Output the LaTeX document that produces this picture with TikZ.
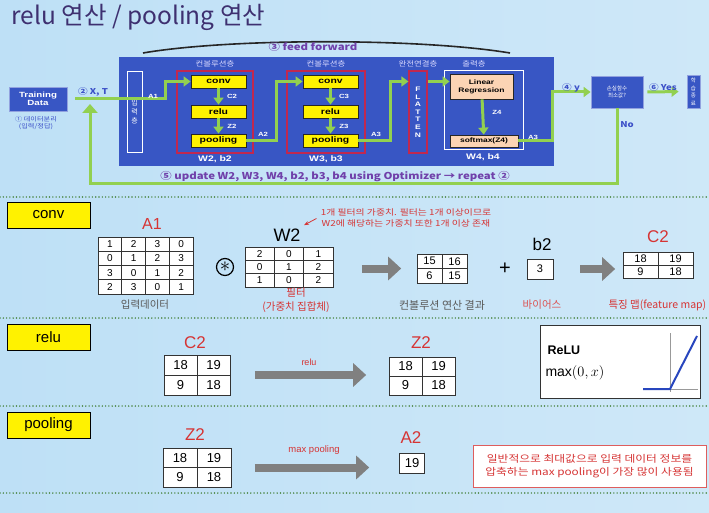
\documentclass[tikz,border=0pt]{standalone}
\usepackage{fontspec}
\setmainfont{Liberation Sans}
\newfontfamily\kr{Noto Sans CJK KR}
\newfontfamily\wkr[FakeStretch=1.2]{Noto Sans CJK KR}
\newfontfamily\wsf[FakeStretch=1.3]{Liberation Sans}
\usetikzlibrary{arrows.meta,positioning,matrix}

\definecolor{panelblue}{RGB}{56,86,196}
\definecolor{flowgreen}{RGB}{146,208,80}
\definecolor{layred}{RGB}{192,40,80}
\definecolor{boxyellow}{RGB}{255,242,0}
\definecolor{lrorange}{RGB}{251,212,180}
\definecolor{labred}{RGB}{214,52,52}
\definecolor{titleblue}{RGB}{62,48,112}
\definecolor{stepblue}{RGB}{60,80,200}
\definecolor{stepviolet}{RGB}{112,64,170}
\definecolor{sepgreen}{RGB}{70,130,60}
\definecolor{bgblue}{RGB}{190,224,246}
\definecolor{arrowgray}{RGB}{128,128,128}
\definecolor{relublue}{RGB}{40,70,190}
\definecolor{capgray}{RGB}{90,90,90}

\tikzset{
  panelbox/.style={fill=panelblue, draw=panelblue!55!white, line width=0.8pt, text=white, inner sep=0pt, align=center},
  ybox/.style={draw=black!85, fill=boxyellow, line width=0.8pt, minimum width=55pt, minimum height=13pt, inner sep=0pt, font=\wsf\bfseries\fontsize{8}{9}\selectfont},
  obox/.style={draw=black!85, fill=lrorange, line width=0.8pt, inner sep=0pt, align=center, font=\wsf\bfseries\fontsize{6.5}{8}\selectfont},
  laybox/.style={draw=layred, line width=1.2pt, inner sep=0pt},
  flow/.style={draw=flowgreen, line width=3pt, -{Triangle[length=7pt,width=10pt]}},
  panellab/.style={text=white, font=\wsf\bfseries\fontsize{6}{7}\selectfont},
  layercap/.style={text=white!85!blue, font=\wkr\fontsize{7}{8}\selectfont},
  steplab/.style={text=stepblue, font=\wkr\bfseries\fontsize{8}{9}\selectfont},
  bigarrow/.style={draw=arrowgray, line width=8pt, -{Triangle[length=13pt,width=23pt]}},
  seccap/.style={draw=black, fill=boxyellow, line width=0.8pt, minimum width=83pt, minimum height=26pt, inner sep=0pt, font=\fontsize{15}{16}\selectfont},
  redlab/.style={text=labred, font=\fontsize{17}{18}\selectfont},
  blacklab/.style={text=black, font=\fontsize{17}{18}\selectfont},
  numgrid/.style={matrix of nodes, column sep=-0.6pt, row sep=-0.6pt, nodes={draw=black!80, fill=white, line width=0.6pt, inner sep=0pt, anchor=center}},
  sepline/.style={draw=sepgreen, line width=1.6pt, line cap=round, dash pattern=on 0pt off 3.3pt},
  caption/.style={font=\kr\fontsize{10.5}{12}\selectfont},
}

\begin{document}
\begin{tikzpicture}[x=1pt,y=-1pt]
\useasboundingbox (0,0) rectangle (709,513);
\clip (0,0) rectangle (709,513);
\shade[left color=bgblue, middle color=white, right color=bgblue!75] (0,0) rectangle (709,513);

% title
\node[anchor=west, text=titleblue, font=\kr\fontsize{24.5}{26}\selectfont] (title) at (8,17) {relu 연산 / pooling 연산};

% network overview
\fill[panelblue] (119,57) rectangle (554,166);
\draw[line width=1.6pt, black!85] (143,53) .. controls (230,38) and (420,38) .. (510,53);
\node[steplab, text=stepviolet, font=\wkr\bfseries\fontsize{9.5}{10}\selectfont] (ff) at (313,47) {③ feed forward};

\node[panelbox, minimum width=58pt, minimum height=24pt, font=\wsf\bfseries\fontsize{7.5}{8.5}\selectfont] (td) at (38,99) {Training\\Data};
\node[text=stepblue, align=center, font=\wkr\fontsize{6}{7}\selectfont] (split) at (36,123) {① 데이터분리\\(입력/정답)};
\node[steplab] (xt) at (93,92) {② X, T};

\node[panelbox, draw=white, minimum width=15pt, minimum height=81pt, font=\kr\fontsize{7}{9}\selectfont] (inl) at (134.5,111.5) {입\\력\\층};

\node[laybox, minimum width=76pt, minimum height=82pt] (lay1) at (215,112) {};
\node[laybox, minimum width=78pt, minimum height=82pt] (lay2) at (326,112) {};
\node[layercap] (cap1) at (215,64) {컨볼루션층};
\node[layercap] (cap2) at (326,64) {컨볼루션층};
\node[layercap] (cap3) at (418,64) {완전연결층};
\node[layercap] (cap4) at (474,64) {출력층};

\node[ybox] (cv1) at (218.5,81.5) {conv};
\node[ybox] (rl1) at (218.5,111.5) {relu};
\node[ybox] (pl1) at (218.5,140.5) {pooling};
\node[ybox] (cv2) at (330.5,81.5) {conv};
\node[ybox] (rl2) at (330.5,111.5) {relu};
\node[ybox] (pl2) at (330.5,140.5) {pooling};

\node[laybox, fill=panelblue, minimum width=18pt, minimum height=82pt, text=white, align=center, font=\wsf\bfseries\fontsize{6.5}{7.6}\selectfont] (flat) at (418,112) {F\\L\\A\\T\\T\\E\\N};

\node[draw=white, line width=1pt, minimum width=79pt, minimum height=79pt, inner sep=0pt] (outl) at (483.5,110.5) {};
\node[obox, minimum width=63pt, minimum height=25pt] (linreg) at (481.5,86.5) {Linear\\Regression};
\node[obox, minimum width=68pt, minimum height=12pt] (smax) at (484,141) {softmax(Z4)};

\node[panelbox, minimum width=52pt, minimum height=32pt, font=\kr\fontsize{5.5}{7}\selectfont] (loss) at (617,92) {손실함수\\최소값?};
\node[panelbox, minimum width=13pt, minimum height=33pt, font=\kr\fontsize{5.5}{7.5}\selectfont] (done) at (693.5,91.5) {학\\습\\종\\료};

% green connectors
\coordinate (k1) at (165,90);
\coordinate (k2) at (276,110);
\coordinate (k3) at (390,110);
\coordinate (k4) at (552,120);
\coordinate (k5) at (90,184);
\coordinate (k6) at (90,104);
\draw[flow, shorten <=8pt] (td.east) -| (k1) |- (cv1.west);
\draw[flow] (cv1) -- (rl1);
\draw[flow] (rl1) -- (pl1);
\draw[flow] (pl1.east) -| (k2) |- (cv2.west);
\draw[flow] (cv2) -- (rl2);
\draw[flow] (rl2) -- (pl2);
\draw[flow] (pl2.east) -| (k3) |- (flat.west |- cv2);
\draw[flow] (flat.east |- cv2) -- (linreg.west |- cv2);
\draw[flow] (linreg) -- (smax);
\draw[flow] (smax.east) -| (k4) |- (loss.west);
\draw[flow, shorten <=4pt, shorten >=8pt] (loss.east) -- (done.west);
\draw[flow, -{Triangle[length=9pt,width=15pt]}] (loss.south) |- (k5) -- (k6);

\node[panellab] (a1) at (153,96) {A1};
\node[panellab] (c2) at (232,96) {C2};
\node[panellab] (z2) at (232,126) {Z2};
\node[panellab] (a2) at (263,134) {A2};
\node[panellab] (c3) at (344,96) {C3};
\node[panellab] (z3) at (344,126) {Z3};
\node[panellab] (a3) at (376,134) {A3};
\node[panellab] (z4) at (497,112) {Z4};
\node[panellab] (a3b) at (533,137) {A3};
\node[panellab, font=\wsf\bfseries\fontsize{8}{9}\selectfont] (wb2) at (215,159) {W2, b2};
\node[panellab, font=\wsf\bfseries\fontsize{8}{9}\selectfont] (wb3) at (326,159) {W3, b3};
\node[panellab, font=\wsf\bfseries\fontsize{8}{9}\selectfont] (wb4) at (483,157) {W4, b4};

\node[steplab] (yl) at (571,88) {④ y};
\node[steplab] (yes) at (663,87) {⑥ Yes};
\node[steplab] (no) at (627,125) {No};
\node[steplab, text=stepviolet, font=\wkr\bfseries\fontsize{9.5}{10}\selectfont] (upd) at (335,177) {⑤ update W2, W3, W4, b2, b3, b4 using Optimizer → repeat ②};

% separators
\foreach \y in {197,318,406,493}
  \draw[sepline] (0,\y) -- (709,\y);

% conv
\node[seccap] (convcap) at (48.5,215) {conv};
\node[redlab, font=\fontsize{16}{17}\selectfont] (a1name) at (152,224) {A1};
\matrix[numgrid, nodes={minimum width=23.75pt, minimum height=14.25pt, font=\fontsize{10}{10}\selectfont}] (ma1) at (145.5,265.5) {
1 & 2 & 3 & 0 \\
0 & 1 & 2 & 3 \\
3 & 0 & 1 & 2 \\
2 & 3 & 0 & 1 \\
};
\node[caption, text=capgray] (a1txt) at (145,305) {입력데이터};
\node[draw, circle, line width=1.2pt, minimum size=17pt, inner sep=0pt, font=\fontsize{22}{22}\selectfont] (star) at (225,267) {$\ast$};
\node[blacklab, font=\fontsize{18}{19}\selectfont] (w2name) at (287,235) {W2};
\matrix[numgrid, nodes={minimum width=29.3pt, minimum height=13.3pt, font=\fontsize{10}{10}\selectfont}] (mw2) at (289,267) {
2 & 0 & 1 \\
0 & 1 & 2 \\
1 & 0 & 2 \\
};
\node[caption, text=labred, align=center, font=\kr\fontsize{10.5}{14}\selectfont] (w2txt) at (296,300) {필터\\(가중치 집합체)};
\node[text=labred, align=center, font=\wkr\fontsize{8.2}{11}\selectfont] (note) at (406,218) {1개 필터의 가중치. 필터는 1개 이상이므로\\W2에 해당하는 가중치 또한 1개 이상 존재};
\draw[labred, line width=0.8pt, -{Stealth[length=5pt]}, shorten <=1pt] (note.west) -- (w2name.north east);

\matrix[numgrid, nodes={minimum width=25pt, minimum height=14.5pt, font=\fontsize{11}{11}\selectfont}] (mres) at (442,268.5) {
15 & 16 \\
6 & 15 \\
};
\draw[bigarrow, shorten <=25pt, shorten >=12pt] (mw2.east |- mres.west) -- (mres.west);
\node[caption, text=capgray, font=\kr\fontsize{11}{12}\selectfont] (restxt) at (442,305) {컨볼루션 연산 결과};
\node[font=\fontsize{20}{20}\selectfont] (plus) at (505,269) {+};
\node[blacklab] (b2name) at (542,244) {b2};
\node[draw=black!80, fill=white, line width=0.6pt, minimum width=26pt, minimum height=20pt, inner sep=0pt, font=\fontsize{11}{11}\selectfont] (mb2) at (540,269) {3};
\node[caption, text=labred!85] (b2txt) at (542,305) {바이어스};
\node[redlab] (c2name) at (658,237) {C2};
\matrix[numgrid, nodes={minimum width=35pt, minimum height=13pt, font=\fontsize{11}{11}\selectfont}] (mc2) at (658,265) {
18 & 19 \\
9 & 18 \\
};
\draw[bigarrow, shorten <=27pt, shorten >=4pt] (mb2.east) -- (mb2.east -| mc2.west);
\node[caption, text=labred, anchor=west] (c2txt) at (605,305) {특징 맵(feature map)};

% relu
\node[seccap] (relucap) at (48.5,337) {relu};
\node[redlab] (c2rname) at (195,343) {C2};
\matrix[numgrid, nodes={minimum width=33pt, minimum height=20pt, font=\fontsize{13}{13}\selectfont}] (mc2r) at (197,375) {
18 & 19 \\
9 & 18 \\
};
\node[redlab] (z2rname) at (421,343) {Z2};
\matrix[numgrid, nodes={minimum width=33pt, minimum height=19pt, font=\fontsize{13}{13}\selectfont}] (mz2r) at (422,376) {
18 & 19 \\
9 & 18 \\
};
\draw[bigarrow, shorten <=21pt, shorten >=19pt] (mc2r.east) -- (mc2r.east -| mz2r.west);
\node[text=labred, font=\fontsize{9}{10}\selectfont] (relutxt) at (309,362) {relu};

\node[draw=black!80, line width=1pt, fill=white, minimum width=160pt, minimum height=73pt] (relubox) at (620,361.5) {};
\node[anchor=west, font=\bfseries\fontsize{12.5}{13}\selectfont] (rtitle) at (544,350) {ReLU};
\node[anchor=west, font=\fontsize{14}{15}\selectfont] (rform) at (542,373) {$\max(0,x)$};
\draw[black!40, line width=0.4pt] (670,333) -- (670,392);
\draw[black!40, line width=0.4pt] (643,389) -- (698,389);
\draw[relublue, line width=2pt] (643,389) -- (670,389) -- (697,336);

% pooling
\node[seccap] (poolcap) at (48.5,425) {pooling};
\node[redlab] (z2pname) at (195,435) {Z2};
\matrix[numgrid, nodes={minimum width=34pt, minimum height=19.5pt, font=\fontsize{13}{13}\selectfont}] (mz2p) at (197,467.5) {
18 & 19 \\
9 & 18 \\
};
\node[redlab] (a2name) at (411,438) {A2};
\node[draw=black!80, fill=white, line width=0.6pt, minimum width=25pt, minimum height=20pt, inner sep=0pt, font=\fontsize{13}{13}\selectfont] (ma2) at (412,463) {19};
\draw[bigarrow, shorten <=20pt, shorten >=30pt] (mz2p.east) -- (mz2p.east -| ma2.west);
\node[text=labred, font=\fontsize{9.5}{10}\selectfont] (pooltxt) at (314,450) {max pooling};
\node[draw=labred!80, line width=0.8pt, fill=white, minimum width=233pt, minimum height=42pt, align=center, text=labred, font=\wkr\fontsize{9.8}{12.5}\selectfont] (pnote) at (589.5,466) {일반적으로 최대값으로 입력 데이터 정보를\\압축하는 max pooling이 가장 많이 사용됨};
\end{tikzpicture}
\end{document}
